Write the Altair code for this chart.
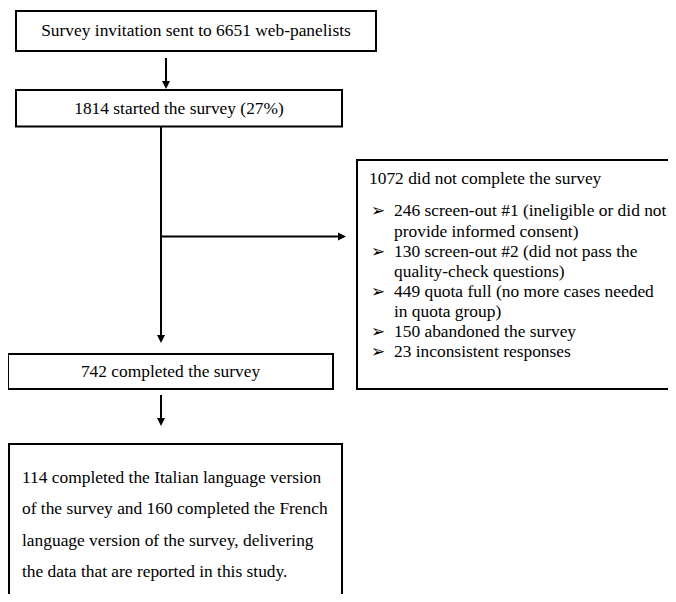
import altair as alt
import pandas as pd

# ---------------- content ----------------
step_labels = [
    "Survey invitation sent to 6651 web-panelists",
    "1814 started the survey (27%)",
    "742 completed the survey",
]
excluded_title = "1072 did not complete the survey"
excluded_counts = [246, 130, 449, 150, 23]
excluded_reasons = [
    ["screen-out #1 (ineligible or did not", "provide informed consent)"],
    ["screen-out #2 (did not pass the", "quality-check questions)"],
    ["quota full (no more cases needed", "in quota group)"],
    ["abandoned the survey"],
    ["inconsistent responses"],
]
final_lines = [
    "114 completed the Italian language version",
    "of the survey and 160 completed the French",
    "language version of the survey, delivering",
    "the data that are reported in this study.",
]

# ---------------- layout (page pixel coordinates) ----------------
step_x0 = [16, 16, 8]
step_x1 = [376, 342, 333]
step_y0 = [11, 90, 354]
step_y1 = [51, 126.5, 389]
step_text_x = [196, 179, 170.5]
step_text_y = [31, 108.5, 371.5]

excl_left, excl_right, excl_top, excl_bottom = 357, 668, 160, 389
excl_title_xy = (369, 179)
bullet_x = 371
reason_x = 394
reason_line_y = [211, 231.5, 252, 272, 292, 312, 332, 352]

final_left, final_right, final_top, final_bottom = 9, 342, 444, 594
final_x = 22
final_line_y = [478, 509, 541, 572]

W, H = 660, 586

# ---------------- tables ----------------
boxes = pd.DataFrame(
    [dict(x=a, x2=b, y=c, y2=d) for a, b, c, d in zip(step_x0, step_x1, step_y0, step_y1)]
)

# open-sided boxes (cut by the picture edge) drawn as border segments
edges = pd.DataFrame([
    dict(x=excl_left, x2=excl_right, y=excl_top, y2=excl_top),
    dict(x=excl_left, x2=excl_right, y=excl_bottom, y2=excl_bottom),
    dict(x=excl_left, x2=excl_left, y=excl_top, y2=excl_bottom),
    dict(x=final_left, x2=final_right, y=final_top, y2=final_top),
    dict(x=final_left, x2=final_left, y=final_top, y2=final_bottom),
    dict(x=final_right, x2=final_right, y=final_top, y2=final_bottom),
])

HEAD = 7
shafts = pd.DataFrame([
    dict(x=166, x2=166, y=58, y2=89 - HEAD),
    dict(x=161, x2=161, y=126.5, y2=343 - HEAD),
    dict(x=161, x2=346 - HEAD, y=236.5, y2=236.5),
    dict(x=161, x2=161, y=395, y2=426 - HEAD),
])
heads_down = pd.DataFrame([dict(x=166, y=89), dict(x=161, y=343), dict(x=161, y=426)])
heads_right = pd.DataFrame([dict(x=346, y=236.5)])

center_texts = pd.DataFrame(dict(x=step_text_x, y=step_text_y, t=step_labels))

left_rows = [dict(x=excl_title_xy[0], y=excl_title_xy[1], t=excluded_title)]
bullet_rows = []
i = 0
for cnt, lines in zip(excluded_counts, excluded_reasons):
    for j, ln in enumerate(lines):
        txt = f"{cnt} {ln}" if j == 0 else ln
        left_rows.append(dict(x=reason_x, y=reason_line_y[i], t=txt))
        if j == 0:
            bullet_rows.append(dict(x=bullet_x, y=reason_line_y[i], t="\u27a2"))
        i += 1
for ln, yy in zip(final_lines, final_line_y):
    left_rows.append(dict(x=final_x, y=yy, t=ln))
left_texts = pd.DataFrame(left_rows)
bullets = pd.DataFrame(bullet_rows)

# ---------------- scales ----------------
xs = alt.Scale(domain=[8, 8 + W], nice=False, zero=False)
ys = alt.Scale(domain=[8, 8 + H], nice=False, zero=False, reverse=True)
X = lambda f="x": alt.X(f"{f}:Q", scale=xs, axis=None)
Y = lambda f="y": alt.Y(f"{f}:Q", scale=ys, axis=None)

FONT = "Liberation Serif"
FS = 17.4

rect_layer = alt.Chart(boxes).mark_rect(
    fill="white", stroke="black", strokeWidth=2
).encode(x=X(), x2="x2:Q", y=Y(), y2="y2:Q")

edge_layer = alt.Chart(edges).mark_rule(color="black", strokeWidth=2, strokeCap="square").encode(
    x=X(), x2="x2:Q", y=Y(), y2="y2:Q"
)

shaft_layer = alt.Chart(shafts).mark_rule(color="black", strokeWidth=2).encode(
    x=X(), x2="x2:Q", y=Y(), y2="y2:Q"
)

down_layer = alt.Chart(heads_down).mark_point(
    shape="M-1,-2L1,-2L0,0Z", size=64, filled=True, color="black", opacity=1, strokeWidth=0
).encode(x=X(), y=Y())

right_layer = alt.Chart(heads_right).mark_point(
    shape="M-2,-1L-2,1L0,0Z", size=64, filled=True, color="black", opacity=1, strokeWidth=0
).encode(x=X(), y=Y())

center_layer = alt.Chart(center_texts).mark_text(
    font=FONT, fontSize=FS, color="black", align="center", baseline="middle"
).encode(x=X(), y=Y(), text="t:N")

left_layer = alt.Chart(left_texts).mark_text(
    font=FONT, fontSize=FS, color="black", align="left", baseline="middle"
).encode(x=X(), y=Y(), text="t:N")

bullet_layer = alt.Chart(bullets).mark_text(
    font="DejaVu Sans", fontSize=17, color="black", align="left", baseline="middle"
).encode(x=X(), y=Y(), text="t:N")

chart = alt.layer(
    rect_layer, edge_layer, shaft_layer, down_layer, right_layer,
    center_layer, left_layer, bullet_layer
).properties(
    width=W, height=H, padding=0, autosize=alt.AutoSizeParams(type="none"), background="white"
).configure_view(stroke=None)

chart.save("out.html", embed_options={"renderer": "svg", "actions": False})
